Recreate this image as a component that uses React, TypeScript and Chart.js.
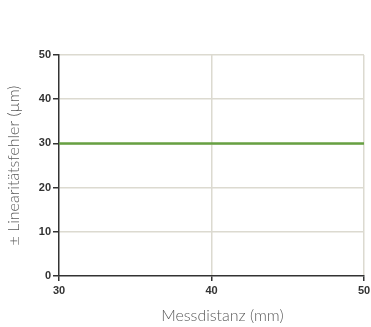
import React, { useEffect, useRef } from "react";
import { Chart, registerables } from "chart.js";

Chart.register(...registerables);

const distances = [30, 40, 50];
const errors = [30, 30, 30];
const xTicks = [30, 40, 50];
const yTicks = [0, 10, 20, 30, 40, 50];
const xTitle = "\u00a0\u00a0\u00a0\u00a0\u00a0Messdistanz (mm)";
const yTitle = "± Linearitätsfehler (µm)";

export default function App() {
  const ref = useRef<HTMLCanvasElement | null>(null);
  useEffect(() => {
    if (!ref.current) return;
    const chart = new Chart(ref.current, {
      type: "line",
      data: {
        datasets: [
          {
            data: distances.map((x, i) => ({ x, y: errors[i] })),
            borderColor: "#67a042",
            borderWidth: 2.5,
            pointRadius: 0,
            tension: 0,
          },
        ],
      },
      options: {
        animation: false,
        responsive: false,
        maintainAspectRatio: false,
        layout: { padding: { top: 55, right: 7, left: 0, bottom: 0 } },
        plugins: { legend: { display: false }, tooltip: { enabled: false } },
        scales: {
          x: {
            type: "linear",
            min: xTicks[0],
            max: xTicks[xTicks.length - 1],
            afterBuildTicks: (s: any) => {
              s.ticks = xTicks.map((v) => ({ value: v }));
            },
            afterFit: (s: any) => {
              s.height = 51;
              s.paddingRight = 0;
              s.paddingLeft = 0;
            },
            ticks: {
              padding: 3,
              color: "#333",
              font: { family: "Liberation Sans", size: 11, weight: "bold" },
              maxRotation: 0,
            },
            grid: {
              color: (c: any) => (c.tick && c.tick.value === xTicks[0] ? "rgba(0,0,0,0)" : "#dcdad0"),
              tickColor: "#333",
              tickLength: 5,
              lineWidth: 1.5,
            },
            border: { display: true, color: "#333", width: 1.5 },
            title: {
              display: true,
              text: xTitle,
              color: "#5a5a5a",
              font: { family: "Lato", size: 16, weight: 300 },
              padding: { top: 0, bottom: 2 },
            },
          },
          y: {
            type: "linear",
            min: yTicks[0],
            max: yTicks[yTicks.length - 1],
            afterBuildTicks: (s: any) => {
              s.ticks = yTicks.map((v) => ({ value: v }));
            },
            afterFit: (s: any) => {
              s.width = 59;
            },
            ticks: {
              padding: 2,
              color: "#333",
              font: { family: "Liberation Sans", size: 11, weight: "bold" },
            },
            grid: {
              color: (c: any) => (c.tick && c.tick.value === yTicks[0] ? "rgba(0,0,0,0)" : "#dcdad0"),
              tickColor: "#333",
              tickLength: 6,
              lineWidth: 1.5,
            },
            border: { display: true, color: "#333", width: 1.5 },
            title: {
              display: true,
              text: yTitle,
              color: "#5a5a5a",
              font: { family: "Lato", size: 16, weight: 300 },
              padding: { top: 4, bottom: 0 },
            },
          },
        },
      },
    });
    return () => chart.destroy();
  }, []);
  return (
    <div style={{ position: "absolute", left: 0, top: 0, width: 371, height: 327 }}>
      <canvas ref={ref} width={371} height={327} style={{ width: 371, height: 327 }} />
    </div>
  );
}
